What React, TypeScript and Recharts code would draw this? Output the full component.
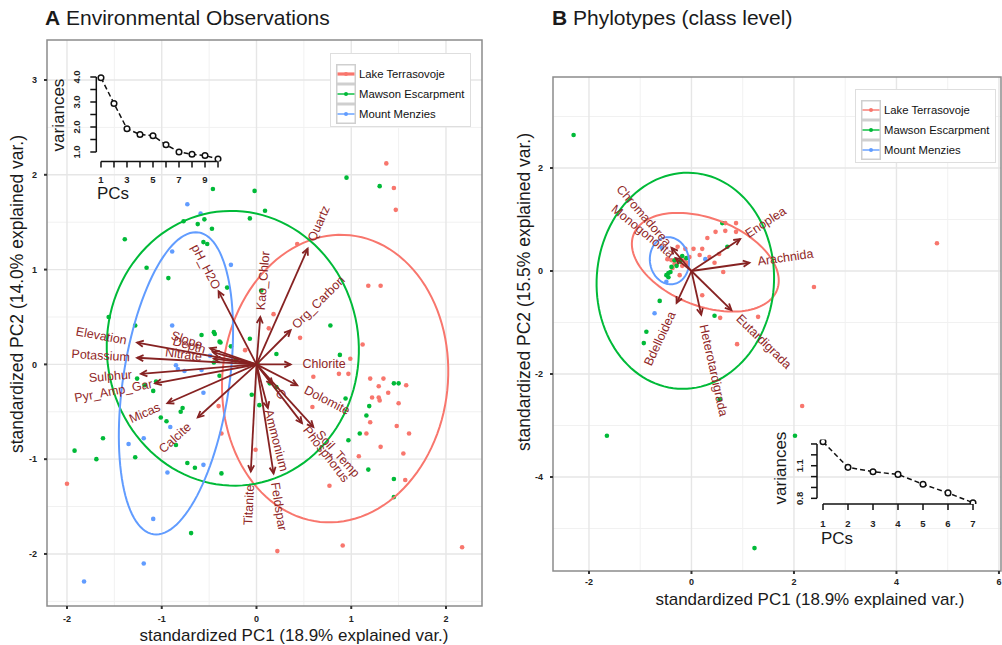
import React from "react";
import {
  ScatterChart,
  Scatter,
  LineChart,
  Line,
  XAxis,
  YAxis,
  CartesianGrid,
  ReferenceLine,
  ReferenceArea,
} from "recharts";

const FONT = '"Liberation Sans", Arial, Helvetica, sans-serif';

const SITES = ["Lake Terrasovoje", "Mawson Escarpment", "Mount Menzies"];
const SITE_COLORS = ["#F8766D", "#00BA38", "#619CFF"];
const ARROW_COLOR = "#862222";
const LABEL_COLOR = "#902626";

// ---- Panel A: environmental observations ----
const ENV_RED = [
  [1.37, 2.12], [1.45, 1.86], [1.47, 1.63], [0.43, 1.27], [1.18, 0.83], [1.31, 0.83],
  [0.18, 0.53], [0.13, 0.38], [0.46, 0.28], [1.12, 0.21], [-0.12, 0.15], [0.99, 0.06],
  [0.6, -0.13], [0.87, -0.1], [0.97, -0.1], [1.2, -0.15], [1.34, -0.15], [1.29, -0.23],
  [1.39, -0.3], [1.58, -0.22], [1.22, -0.35], [1.29, -0.35], [1.3, -0.38], [1.5, -0.41],
  [0.59, -0.45], [-0.4, -0.44], [1.2, -0.61], [1.48, -0.65], [1.61, -0.73], [1.16, -0.73],
  [1.31, -0.87], [-0.37, -0.73], [-0.01, -0.9], [1.08, -0.97], [1.55, -0.94], [1.57, -1.22],
  [0.77, -1.28], [-2.0, -1.26], [0.22, -1.97], [0.91, -1.91], [2.17, -1.93],
];
const ENV_GREEN = [
  [0.95, 1.97], [1.3, 1.88], [-0.46, 1.85], [-0.02, 1.83], [0.09, 1.62], [-0.77, 1.51],
  [-0.62, 1.48], [-0.55, 1.53], [-0.47, 1.43], [-0.07, 1.54], [-1.39, 1.32], [-0.56, 1.29],
  [-0.52, 1.27], [-1.16, 1.02], [-0.93, 0.91], [-0.31, 0.81], [0.05, 0.78], [-1.56, 0.5],
  [0.78, 0.41], [-1.28, 0.41], [-0.58, 0.31], [-0.45, 0.34], [-0.44, 0.32], [-0.38, 0.23],
  [-0.27, 0.19], [-0.07, 0.27], [-0.39, 0.24], [0.21, 0.11], [0.88, 0.1], [0.01, 0.01],
  [-0.22, 0.04], [-0.45, 0.02], [-1.26, -0.15], [-1.18, -0.22], [-1.06, -0.18], [-1.09, -0.28],
  [-0.39, -0.12], [0.14, -0.2], [0.21, -0.24], [-0.05, -0.32], [0.03, -0.43], [-0.78, -0.46],
  [-0.8, -0.5], [-1.01, -0.56], [-0.95, -0.6], [-1.62, -0.78], [-0.85, -0.85], [-1.92, -0.91],
  [-1.69, -1.0], [-1.28, -0.98], [-0.73, -1.04], [-0.65, -1.09], [-0.37, -1.15], [0.94, -0.36],
  [1.19, -0.44], [1.16, -0.54], [1.09, -0.73], [0.97, -0.8], [1.45, -0.2], [1.5, -0.2],
  [1.18, -1.11], [1.45, -1.21], [1.45, -1.4], [-0.69, -1.78],
];
const ENV_BLUE = [
  [-0.73, 1.69], [-0.59, 1.59], [-0.89, 1.19], [-0.27, 1.05], [-0.89, 0.41], [-0.49, 0.09],
  [-0.85, -0.01], [-0.83, -0.05], [-0.76, -0.07], [-0.58, -0.06], [-0.56, -0.3], [-0.91, -0.66],
  [-1.35, -0.84], [-1.19, -0.78], [-0.56, -1.06], [-0.94, -1.14], [-1.09, -1.63], [-1.19, -2.1],
  [-1.82, -2.29],
];

const ENV_VARS = [
  "Elevation", "Potassium", "Sulphur", "Pyr_Amp_Gar", "Micas", "Calcite", "Slope", "Depth",
  "Nitrate", "pH_H2O", "Kao_Chlor", "Quartz", "Org_Carbon", "Chlorite", "Dolomite", "C",
  "Soil_Temp", "Phosphorus", "Ammonium", "Feldspar", "Titanite",
];
const ENV_LOAD_PC1 = [
  -1.26, -1.26, -1.22, -1.07, -0.94, -0.62, -0.49, -0.46, -0.45, -0.4, 0.04, 0.54, 0.36, 0.36,
  0.43, 0.17, 0.6, 0.48, 0.12, 0.18, -0.06,
];
const ENV_LOAD_PC2 = [
  0.23, 0.07, -0.1, -0.2, -0.41, -0.56, 0.17, 0.13, 0.06, 0.77, 0.5, 1.22, 0.36, 0.0, -0.22,
  -0.21, -0.66, -0.62, -0.46, -1.15, -1.13,
];

// ellipse: centre, semi-axis a along angle (deg), semi-axis b
const ENV_ELLIPSES = [
  { cx: 0.83, cy: -0.15, a: 1.52, b: 1.19, angle: 84 },
  { cx: -0.25, cy: 0.17, a: 1.45, b: 1.33, angle: 94 },
  { cx: -0.85, cy: -0.2, a: 1.61, b: 0.56, angle: 81.5 },
];

const ENV_PCS = [1, 2, 3, 4, 5, 6, 7, 8, 9, 10];
const ENV_VARIANCES = [3.97, 2.94, 1.93, 1.7, 1.65, 1.29, 1.0, 0.91, 0.86, 0.72];

// ---- Panel B: phylotypes ----
const PHY_RED = [
  [4.79, 0.54], [2.39, -0.31], [2.16, -2.62], [0.56, -0.91], [1.3, -0.89], [0.89, -1.42],
  [0.87, 0.93], [0.87, 0.76], [0.66, 0.78], [0.66, 0.93], [0.47, 0.76], [0.31, 0.64],
  [0.21, 0.43], [0.04, 0.43], [-0.12, 0.43], [0.16, 0.31], [0.35, 0.27], [0.54, 0.33],
  [0.45, 0.16], [0.62, -0.02], [-0.23, -0.08], [0.21, -0.47], [-0.39, 0.21], [-0.47, 0.23],
  [-0.27, 0.47], [-0.04, 0.27], [-0.08, 0.16], [-0.14, 0.21], [-0.18, 0.1], [-0.37, 0.06],
  [-0.33, 0.14],
];
const PHY_GREEN = [
  [-2.3, 2.64], [-1.65, -3.2], [2.02, -3.2], [1.23, -5.38], [0.55, -2.49], [-0.62, -0.58],
  [-0.88, -1.18], [-0.93, -1.4], [0.45, -0.87], [0.6, 0.93], [0.7, 0.47], [-0.49, -0.08],
  [-0.45, -0.04], [-0.41, -0.02], [-0.39, 0.08], [-0.29, 0.1], [-0.18, 0.29], [-0.1, 0.25],
  [-0.33, 0.21], [-0.45, -0.12], [-0.22, 0.18],
];
const PHY_BLUE = [[-0.58, 0.45], [-0.49, -0.21], [0.27, 0.23], [-0.72, -0.82]];

const PHY_VARS = [
  "Chromadorea", "Monogononta", "Enoplea", "Arachnida", "Bdelloidea", "Heterotardigrada",
  "Eutardigrada",
];
const PHY_LOAD_PC1 = [-0.39, -0.31, 0.95, 1.13, -0.29, 0.19, 0.78];
const PHY_LOAD_PC2 = [0.45, 0.25, 0.62, 0.16, -0.62, -0.85, -0.76];

const PHY_ELLIPSES = [
  { cx: 0.27, cy: 0.17, a: 1.5, b: 0.85, angle: -21 },
  { cx: -0.12, cy: -0.19, a: 2.1, b: 1.73, angle: 86 },
  { cx: -0.43, cy: 0.2, a: 0.46, b: 0.38, angle: 100 },
];

const PHY_PCS = [1, 2, 3, 4, 5, 6, 7];
const PHY_VARIANCES = [1.32, 1.085, 1.045, 1.02, 0.93, 0.85, 0.76];

const toXY = (pts: number[][]) => pts.map(([x, y]) => ({ x, y }));

function ellipseOutline(e: { cx: number; cy: number; a: number; b: number; angle: number }) {
  const t = (e.angle * Math.PI) / 180;
  const out = [];
  for (let i = 0; i <= 120; i++) {
    const f = (i / 120) * 2 * Math.PI;
    const u = e.a * Math.cos(f);
    const v = e.b * Math.sin(f);
    out.push({ x: e.cx + u * Math.cos(t) - v * Math.sin(t), y: e.cy + u * Math.sin(t) + v * Math.cos(t) });
  }
  return out;
}

// loading arrow with an open head and a label rotated along its direction
function arrowShape(label: string) {
  return (p: any) => {
    const { x1, y1, x2, y2 } = p;
    const dx = x2 - x1;
    const dy = y2 - y1;
    const len = Math.hypot(dx, dy) || 1;
    const ang = Math.atan2(dy, dx);
    const head = 7;
    const h1 = [x2 - head * Math.cos(ang - 0.45), y2 - head * Math.sin(ang - 0.45)];
    const h2 = [x2 - head * Math.cos(ang + 0.45), y2 - head * Math.sin(ang + 0.45)];
    const fs = 12.5;
    const w = label.length * fs * 0.47;
    const d = len + 10 + w / 2;
    const lx = x1 + (dx / len) * d;
    const ly = y1 + (dy / len) * d;
    let deg = (ang * 180) / Math.PI;
    if (dx < 0) deg += 180;
    return (
      <g>
        <line x1={x1} y1={y1} x2={x2} y2={y2} stroke={ARROW_COLOR} strokeWidth={1.8} />
        <polyline
          points={`${h1[0]},${h1[1]} ${x2},${y2} ${h2[0]},${h2[1]}`}
          fill="none"
          stroke={ARROW_COLOR}
          strokeWidth={1.8}
        />
        <text
          x={lx}
          y={ly}
          transform={`rotate(${deg} ${lx} ${ly})`}
          textAnchor="middle"
          dominantBaseline="central"
          fontSize={fs}
          fontFamily={FONT}
          fill={LABEL_COLOR}
        >
          {label}
        </text>
      </g>
    );
  };
}

const dot = (color: string) => (p: any) => <circle cx={p.cx} cy={p.cy} r={2.3} fill={color} />;
const noDot = () => <g />;
const screeDot = (p: any) => (
  <circle key={`d-${p.index}`} cx={p.cx} cy={p.cy} r={2.8} stroke="#111" strokeWidth={1.5} fill="#fff" />
);

const tickStyle = { fontSize: 9, fontWeight: 700, fill: "#222", fontFamily: FONT };

function Biplot(props: {
  width: number;
  height: number;
  margin: any;
  xDomain: number[];
  yDomain: number[];
  xTicks: number[];
  yTicks: number[];
  xMinor: number[];
  yMinor: number[];
  xTickMargin: number;
  groups: number[][][];
  ellipses: any[];
  vars: string[];
  pc1: number[];
  pc2: number[];
}) {
  const p = props;
  return (
    <ScatterChart width={p.width} height={p.height} margin={p.margin}>
      <CartesianGrid verticalValues={p.xMinor} horizontalValues={p.yMinor} stroke="#f1f1f1" strokeWidth={1} />
      <CartesianGrid verticalValues={p.xTicks} horizontalValues={p.yTicks} stroke="#e6e6e6" strokeWidth={1.4} />
      <XAxis
        type="number"
        dataKey="x"
        domain={p.xDomain}
        ticks={p.xTicks}
        interval={0}
        allowDataOverflow
        axisLine={false}
        tickSize={3}
        tickMargin={p.xTickMargin}
        tickLine={{ stroke: "#333", strokeWidth: 2 }}
        tick={tickStyle}
        height={30}
      />
      <YAxis
        type="number"
        dataKey="y"
        domain={p.yDomain}
        ticks={p.yTicks}
        interval={0}
        allowDataOverflow
        axisLine={false}
        tickSize={3}
        tickMargin={7}
        tickLine={{ stroke: "#333", strokeWidth: 2 }}
        tick={tickStyle}
        width={30}
      />
      <ReferenceArea
        x1={p.xDomain[0]}
        x2={p.xDomain[1]}
        y1={p.yDomain[0]}
        y2={p.yDomain[1]}
        fill="none"
        fillOpacity={0}
        stroke="#8c8c8c"
        strokeWidth={1.5}
        ifOverflow="visible"
      />
      {p.groups.map((g, i) => (
        <Scatter key={`pts-${i}`} data={toXY(g)} shape={dot(SITE_COLORS[i])} isAnimationActive={false} />
      ))}
      {p.ellipses.map((e, i) => (
        <Scatter
          key={`ell-${i}`}
          data={ellipseOutline(e)}
          line={{ stroke: SITE_COLORS[i], strokeWidth: 2 }}
          shape={noDot}
          isAnimationActive={false}
        />
      ))}
      {p.vars.map((v, i) => (
        <ReferenceLine
          key={v}
          segment={[{ x: 0, y: 0 }, { x: p.pc1[i], y: p.pc2[i] }]}
          ifOverflow="visible"
          shape={arrowShape(v)}
          zIndex={1500}
        />
      ))}
    </ScatterChart>
  );
}

function Scree(props: {
  width: number;
  height: number;
  margin: any;
  pcs: number[];
  values: number[];
  xDomain: number[];
  yDomain: number[];
  xLabels: number[];
  yTicks: number[];
  yLabels: number[];
  xTickMargin: number;
  yTickMargin: number;
}) {
  const p = props;
  const data = p.pcs.map((pc, i) => ({ pc, v: p.values[i] }));
  const xTick = (t: any) =>
    p.xLabels.includes(t.payload.value) ? (
      <text x={t.x} y={t.y} dy="0.71em" textAnchor="middle" fontSize={9.5} fontWeight={700} fontFamily={FONT} fill="#222">
        {t.payload.value}
      </text>
    ) : (
      <g />
    );
  const yTick = (t: any) =>
    p.yLabels.some((l) => Math.abs(l - t.payload.value) < 1e-6) ? (
      <text
        x={t.x}
        y={t.y}
        transform={`rotate(-90 ${t.x} ${t.y})`}
        textAnchor="middle"
        fontSize={9.5}
        fontWeight={700}
        fontFamily={FONT}
        fill="#222"
      >
        {Number(t.payload.value).toFixed(1)}
      </text>
    ) : (
      <g />
    );
  const yTop = p.yTicks[p.yTicks.length - 1];
  return (
    <LineChart width={p.width} height={p.height} margin={p.margin} data={data}>
      <XAxis
        type="number"
        dataKey="pc"
        domain={p.xDomain}
        ticks={p.pcs}
        interval={0}
        allowDataOverflow
        axisLine={false}
        tickSize={6}
        tickMargin={p.xTickMargin}
        tickLine={{ stroke: "#111", strokeWidth: 1.5 }}
        tick={xTick}
        height={25}
      />
      <YAxis
        type="number"
        domain={p.yDomain}
        ticks={p.yTicks}
        interval={0}
        allowDataOverflow
        axisLine={false}
        tickSize={6}
        tickMargin={p.yTickMargin}
        tickLine={{ stroke: "#111", strokeWidth: 1.5 }}
        tick={yTick}
        width={30}
      />
      <ReferenceLine
        segment={[{ x: p.xDomain[0], y: p.yTicks[0] }, { x: p.xDomain[0], y: yTop }]}
        stroke="#111"
        strokeWidth={1.5}
        ifOverflow="visible"
      />
      <ReferenceLine
        segment={[{ x: p.pcs[0], y: p.yDomain[0] }, { x: p.pcs[p.pcs.length - 1], y: p.yDomain[0] }]}
        stroke="#111"
        strokeWidth={1.5}
        ifOverflow="visible"
      />
      <Line
        dataKey="v"
        stroke="#111"
        strokeWidth={1.5}
        strokeDasharray="5 3"
        dot={screeDot}
        isAnimationActive={false}
      />
    </LineChart>
  );
}

function SiteLegend({ left, top, thickFirst }: { left: number; top: number; thickFirst: boolean }) {
  return (
    <div
      style={{
        position: "absolute",
        left,
        top,
        width: 141,
        height: 74,
        border: "1px solid #dedede",
        background: "#fff",
        boxSizing: "border-box",
      }}
    >
      {SITES.map((s, i) => (
        <div key={s} style={{ position: "absolute", left: 5, top: 10 + i * 20, height: 20, display: "flex", alignItems: "center" }}>
          <svg width={20} height={20}>
            <rect x={0.75} y={0.75} width={18.5} height={18.5} fill="#fff" stroke="#cfcfcf" strokeWidth={1.5} />
            <line
              x1={1.5}
              x2={18.5}
              y1={10}
              y2={10}
              stroke={SITE_COLORS[i]}
              strokeWidth={thickFirst && i === 0 ? 3.2 : 1.4}
            />
            <circle cx={10} cy={10} r={2} fill={SITE_COLORS[i]} />
          </svg>
          <span style={{ marginLeft: 3, fontSize: 11.3, color: "#111", whiteSpace: "nowrap" }}>{s}</span>
        </div>
      ))}
    </div>
  );
}

const textAt = (x: number, y: number, size: number, rotate = false): React.CSSProperties => ({
  position: "absolute",
  left: x,
  top: y,
  fontSize: size,
  whiteSpace: "nowrap",
  color: "#1a1a1a",
  transform: rotate ? "translate(-50%, -50%) rotate(-90deg)" : "translate(-50%, -50%)",
  lineHeight: 1,
});

export default function App() {
  return (
    <div
      style={{
        position: "absolute",
        left: 0,
        top: 0,
        width: 1002,
        height: 645,
        background: "#fff",
        fontFamily: FONT,
        overflow: "hidden",
      }}
    >
      <div style={{ position: "absolute", left: 0, top: 0 }}>
        <Biplot
          width={500}
          height={645}
          margin={{ top: 40, right: 18, bottom: 9, left: 17 }}
          xDomain={[-2.211, 2.38]}
          yDomain={[-2.549, 3.422]}
          xTicks={[-2, -1, 0, 1, 2]}
          yTicks={[-2, -1, 0, 1, 2, 3]}
          xMinor={[-1.5, -0.5, 0.5, 1.5]}
          yMinor={[-2.5, -1.5, -0.5, 0.5, 1.5, 2.5]}
          xTickMargin={7}
          groups={[ENV_RED, ENV_GREEN, ENV_BLUE]}
          ellipses={ENV_ELLIPSES}
          vars={ENV_VARS}
          pc1={ENV_LOAD_PC1}
          pc2={ENV_LOAD_PC2}
        />
      </div>
      <div style={{ position: "absolute", left: 500, top: 0 }}>
        <Biplot
          width={502}
          height={645}
          margin={{ top: 77, right: 1, bottom: 44, left: 23 }}
          xDomain={[-2.702, 6.04]}
          yDomain={[-5.825, 3.767]}
          xTicks={[-2, 0, 2, 4, 6]}
          yTicks={[-4, -2, 0, 2]}
          xMinor={[-1, 1, 3, 5]}
          yMinor={[-5, -3, -1, 1, 3]}
          xTickMargin={5}
          groups={[PHY_RED, PHY_GREEN, PHY_BLUE]}
          ellipses={PHY_ELLIPSES}
          vars={PHY_VARS}
          pc1={PHY_LOAD_PC1}
          pc2={PHY_LOAD_PC2}
        />
      </div>

      <div style={{ position: "absolute", left: 40, top: 60 }}>
        <Scree
          width={200}
          height={140}
          margin={{ top: 13.75, right: 17.3, bottom: 13.5, left: 26.3 }}
          pcs={ENV_PCS}
          values={ENV_VARIANCES}
          xDomain={[0.64, 10.36]}
          yDomain={[0.62, 4.13]}
          xLabels={[1, 3, 5, 7, 9]}
          yTicks={[1, 1.5, 2, 2.5, 3, 3.5, 4]}
          yLabels={[1, 2, 3, 4]}
          xTickMargin={9}
          yTickMargin={10}
        />
      </div>
      <div style={{ position: "absolute", left: 770, top: 420 }}>
        <Scree
          width={230}
          height={130}
          margin={{ top: 19.4, right: 21, bottom: 21, left: 17 }}
          pcs={PHY_PCS}
          values={PHY_VARIANCES}
          xDomain={[0.76, 7.24]}
          yDomain={[0.748, 1.342]}
          xLabels={PHY_PCS}
          yTicks={[0.8, 0.9, 1.0, 1.1, 1.2, 1.3]}
          yLabels={[0.8, 1.1]}
          xTickMargin={10.5}
          yTickMargin={8}
        />
      </div>

      <div style={{ position: "absolute", left: 45, top: 6, fontSize: 21, color: "#1a1a1a", whiteSpace: "nowrap" }}>
        <b>A</b> Environmental Observations
      </div>
      <div style={{ position: "absolute", left: 552, top: 6, fontSize: 21, color: "#1a1a1a", whiteSpace: "nowrap" }}>
        <b>B</b> Phylotypes (class level)
      </div>

      <div style={textAt(294, 635, 17)}>standardized PC1 (18.9% explained var.)</div>
      <div style={textAt(18, 294, 17.5, true)}>standardized PC2 (14.0% explained var.)</div>
      <div style={textAt(810, 599, 17)}>standardized PC1 (18.9% explained var.)</div>
      <div style={textAt(525, 292, 17.5, true)}>standardized PC2 (15.5% explained var.)</div>

      <div style={textAt(58, 115, 17, true)}>variances</div>
      <div style={{ ...textAt(97, 193, 17), transform: "translate(0, -50%)" }}>PCs</div>
      <div style={textAt(780, 468, 17, true)}>variances</div>
      <div style={{ ...textAt(821, 538, 17), transform: "translate(0, -50%)" }}>PCs</div>

      <SiteLegend left={330} top={53} thickFirst />
      <SiteLegend left={855} top={89} thickFirst={false} />
    </div>
  );
}
